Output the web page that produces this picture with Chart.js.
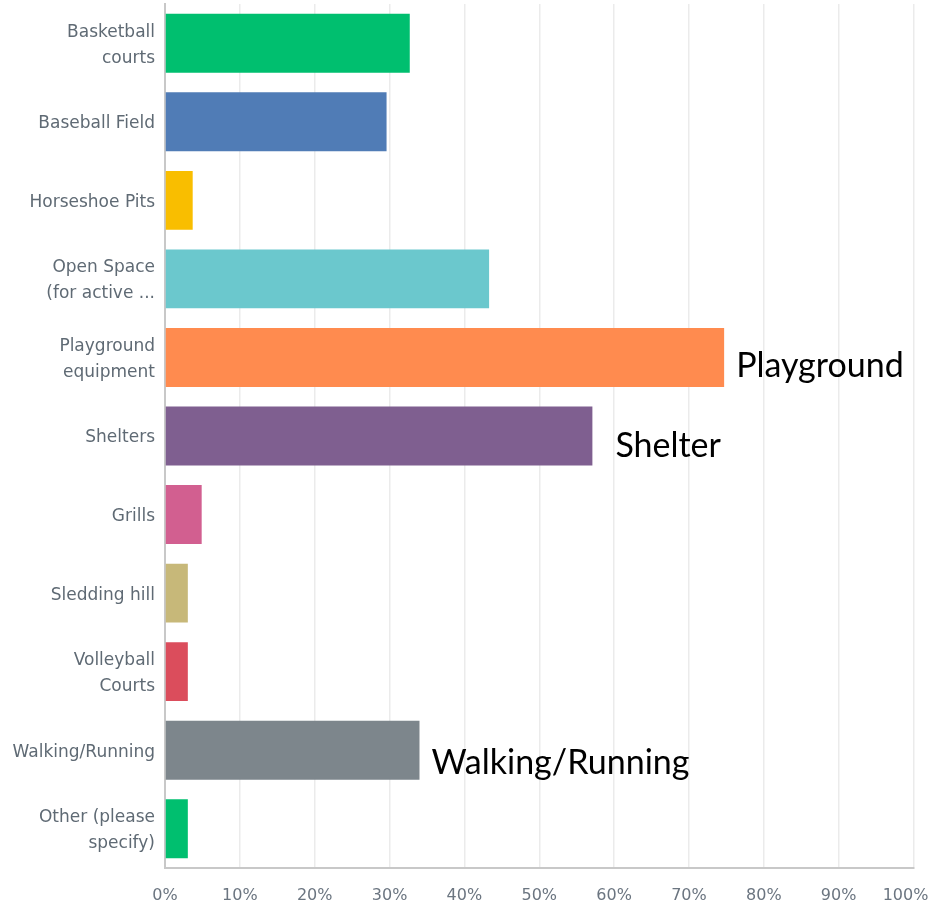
<!DOCTYPE html>
<html>
<head>
<meta charset="utf-8">
<script src="https://cdn.jsdelivr.net/npm/chart.js@4"></script>
<style>
  html, body { margin: 0; padding: 0; background: #ffffff; overflow: hidden; }
  #wrap { width: 932px; height: 906px; position: relative; }
</style>
</head>
<body>
<div id="wrap"><canvas id="c"></canvas></div>
<script>
const categories = [
  ['Basketball', 'courts'],
  'Baseball Field',
  'Horseshoe Pits',
  ['Open Space', '(for active ...'],
  ['Playground', 'equipment'],
  'Shelters',
  'Grills',
  'Sledding hill',
  ['Volleyball', 'Courts'],
  'Walking/Running',
  ['Other (please', 'specify)']
];
const values = [32.7, 29.6, 3.7, 43.3, 74.7, 57.1, 4.9, 3.05, 3.05, 34.0, 3.05];
const barColors = ['#00BF6F', '#507CB6', '#F9BE00', '#6BC8CD', '#FF8B4F', '#7F5F90',
                   '#D25F90', '#C7B879', '#DB4D5C', '#7D868C', '#00BF6F'];
const tickValues = [0, 10, 20, 30, 40, 50, 60, 70, 80, 90, 100];
const tickLabels = ['0%', '10%', '20%', '30%', '40%', '50%', '60%', '70%', '80%', '90%', '100%'];
const notes = ['', '', '', '', 'Playground', 'Shelter', '', '', '', 'Walking/Running', ''];

const notePlugin = {
  id: 'notes',
  afterDatasetsDraw(chart, args, opts) {
    const ctx = chart.ctx;
    const meta = chart.getDatasetMeta(0);
    ctx.save();
    ctx.font = opts.font;
    ctx.fillStyle = opts.color;
    ctx.textAlign = 'left';
    ctx.textBaseline = 'alphabetic';
    notes.forEach((t, i) => {
      if (!t) return;
      const el = meta.data[i];
      const off = opts.offsets[i] || [12, 21];
      ctx.fillText(t, el.x + off[0], el.y + off[1]);
    });
    ctx.restore();
  }
};

new Chart(document.getElementById('c'), {
  type: 'bar',
  data: {
    labels: categories,
    datasets: [{
      data: values,
      backgroundColor: barColors,
      borderWidth: 0,
      barPercentage: 0.75,
      categoryPercentage: 1.0
    }]
  },
  options: {
    indexAxis: 'y',
    responsive: true,
    maintainAspectRatio: false,
    animation: false,
    layout: { padding: { top: 4, bottom: 0, left: 0, right: 0 } },
    plugins: {
      legend: { display: false },
      tooltip: { enabled: false },
      notes: {
        font: '34px Lato, "Open Sans", sans-serif',
        color: '#000000',
        offsets: { 4: [12, 20], 5: [23, 21], 9: [12, 24] }
      }
    },
    scales: {
      x: {
        type: 'linear',
        min: 0,
        max: 100,
        afterBuildTicks(s) { s.ticks = tickValues.map(v => ({ value: v })); },
        afterFit(s) { s.paddingRight = 18.5; s.height = 38; },
        grid: { color: '#ebebeb', lineWidth: 1.5, drawTicks: false },
        border: { display: true, color: '#c8c8c8', width: 2 },
        ticks: {
          padding: 18,
          color: '#6b7580',
          font: { family: '"DejaVu Sans", sans-serif', size: 16 },
          maxRotation: 0,
          autoSkip: false,
          callback: (v) => {
            const i = tickValues.indexOf(v);
            const lab = i >= 0 ? tickLabels[i] : '';
            return v === 100 ? lab + '\u2002\u2002' : lab;
          }
        }
      },
      y: {
        afterFit(s) { s.width = 165; s.paddingTop = 0; s.paddingBottom = 0; },
        grid: { display: false, drawTicks: false },
        border: { display: true, color: '#c8c8c8', width: 2 },
        ticks: {
          padding: 10,
          labelOffset: 2,
          color: '#5f6a74',
          font: { family: '"DejaVu Sans", sans-serif', size: 17, lineHeight: 1.53 },
          autoSkip: false
        }
      }
    }
  },
  plugins: [notePlugin]
});
</script>
</body>
</html>
